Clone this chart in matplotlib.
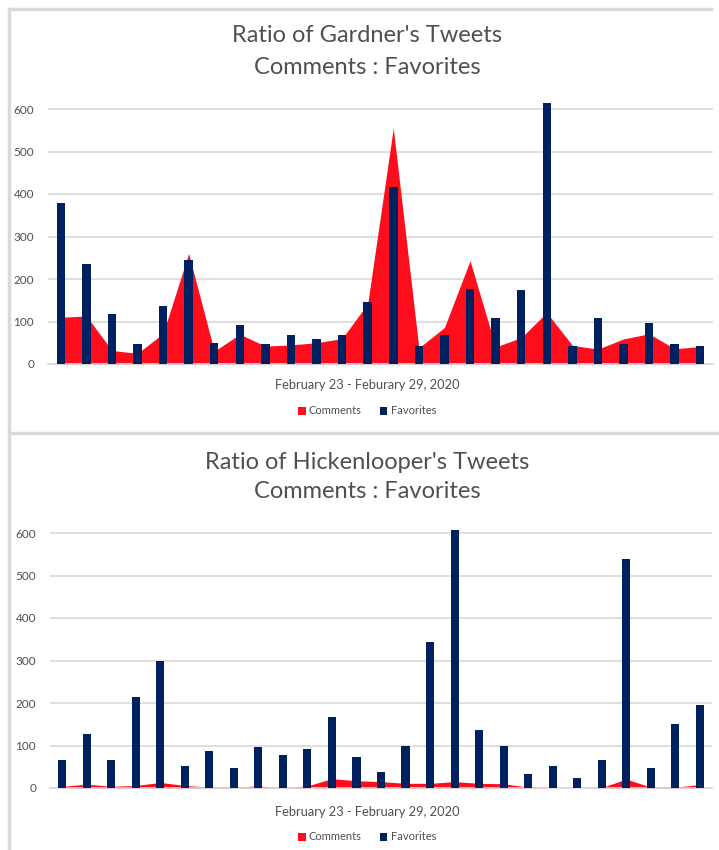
import matplotlib.pyplot as plt
import numpy as np
from matplotlib.lines import Line2D

# Dados (Gardner)
gardner_comments = [110, 113, 32, 25, 72, 260, 30, 70, 42, 45, 50, 60, 142,
                    555, 38, 86, 243, 40, 62, 121, 44, 35, 59, 71, 36, 41]
gardner_favorites = [380, 235, 118, 46, 136, 245, 50, 91, 46, 68, 60, 68, 146,
                     416, 42, 69, 176, 109, 173, 615, 42, 109, 46, 96, 46, 42]

# Dados (Hickenlooper)
hick_comments = [4, 9, 4, 6, 13, 6, 2, 2, 5, 0, 5, 22, 17, 15, 11, 11, 15, 11,
                 10, 2, 0, 0, 1, 21, 2, 2, 8]
hick_favorites = [65, 128, 65, 213, 299, 51, 87, 46, 96, 78, 91, 168, 74, 37,
                  100, 344, 606, 136, 100, 33, 51, 24, 65, 539, 46, 151, 195]

titles = [["Ratio of Gardner's Tweets", "Comments : Favorites"],
          ["Ratio of Hickenlooper's Tweets", "Comments : Favorites"]]
xlabels = ["February 23 - Feburary 29, 2020",
           "February 23 - February 29, 2020"]
yticks = [0, 100, 200, 300, 400, 500, 600]

RED = '#FF0D1D'
NAVY = '#002060'
GRID = '#D9D9D9'
TEXT = '#505050'

plt.rcParams['font.family'] = ['Lato', 'DejaVu Sans']

W, H = 719, 850
fig = plt.figure(figsize=(W / 100, H / 100), dpi=100)


def fx(px):
    return px / W


def fy(py):
    return 1 - py / H


def painel(rect, comments, favorites, title, xlabel, title_y, xlabel_y, legend_y):
    ax = fig.add_axes(rect)
    x = np.arange(len(favorites))
    ax.fill_between(x, comments, color=RED, linewidth=0, label='Comments', zorder=2)
    ax.bar(x, favorites, width=0.33, color=NAVY, label='Favorites', zorder=3)
    ax.set_xlim(-0.5, len(favorites) - 0.5)
    ax.set_ylim(0, 620)
    ax.set_yticks(yticks)
    ax.set_xticks([])
    ax.grid(axis='y', color=GRID, linewidth=1.2, zorder=0)
    ax.set_axisbelow(True)
    for s in ['top', 'right', 'left']:
        ax.spines[s].set_visible(False)
    ax.spines['bottom'].set_color(GRID)
    ax.spines['bottom'].set_linewidth(1.2)
    ax.tick_params(axis='y', length=0, pad=10, labelsize=8.5, labelcolor=TEXT)

    cx = fx(367)
    # Título em duas linhas
    fig.text(cx, fy(title_y[0]), title[0], ha='center', va='center', fontsize=17,
             color=TEXT)
    fig.text(cx, fy(title_y[1]), title[1], ha='center', va='center', fontsize=17,
             color=TEXT)
    fig.text(cx, fy(xlabel_y), xlabel, ha='center', va='center', fontsize=9.3,
             color=TEXT)
    h, l = ax.get_legend_handles_labels()
    fig.legend(h, l, loc='center', bbox_to_anchor=(cx, fy(legend_y)), ncol=2,
               frameon=False, fontsize=8, handlelength=0.7, handleheight=0.7,
               handletextpad=0.3, columnspacing=1.6, labelcolor=TEXT)
    return ax


# Painel de cima
painel([fx(48), fy(364), fx(665), 263.5 / H], gardner_comments, gardner_favorites,
       titles[0], xlabels[0], (36, 67), 385, 411)
# Painel de baixo
painel([fx(50), fy(788), fx(662), 263.5 / H], hick_comments, hick_favorites,
       titles[1], xlabels[1], (462, 492), 812, 837)

# Bordas cinzas dos painéis
border = dict(color=GRID, linewidth=2.5, transform=fig.transFigure)
fig.add_artist(Line2D([fx(9), fx(711)], [fy(9), fy(9)], **border))
fig.add_artist(Line2D([fx(9), fx(9)], [fy(9), fy(850)], **border))
fig.add_artist(Line2D([fx(9), fx(719)], [fy(433), fy(433)], **border))

plt.savefig('out.png', dpi=100)
plt.close()
